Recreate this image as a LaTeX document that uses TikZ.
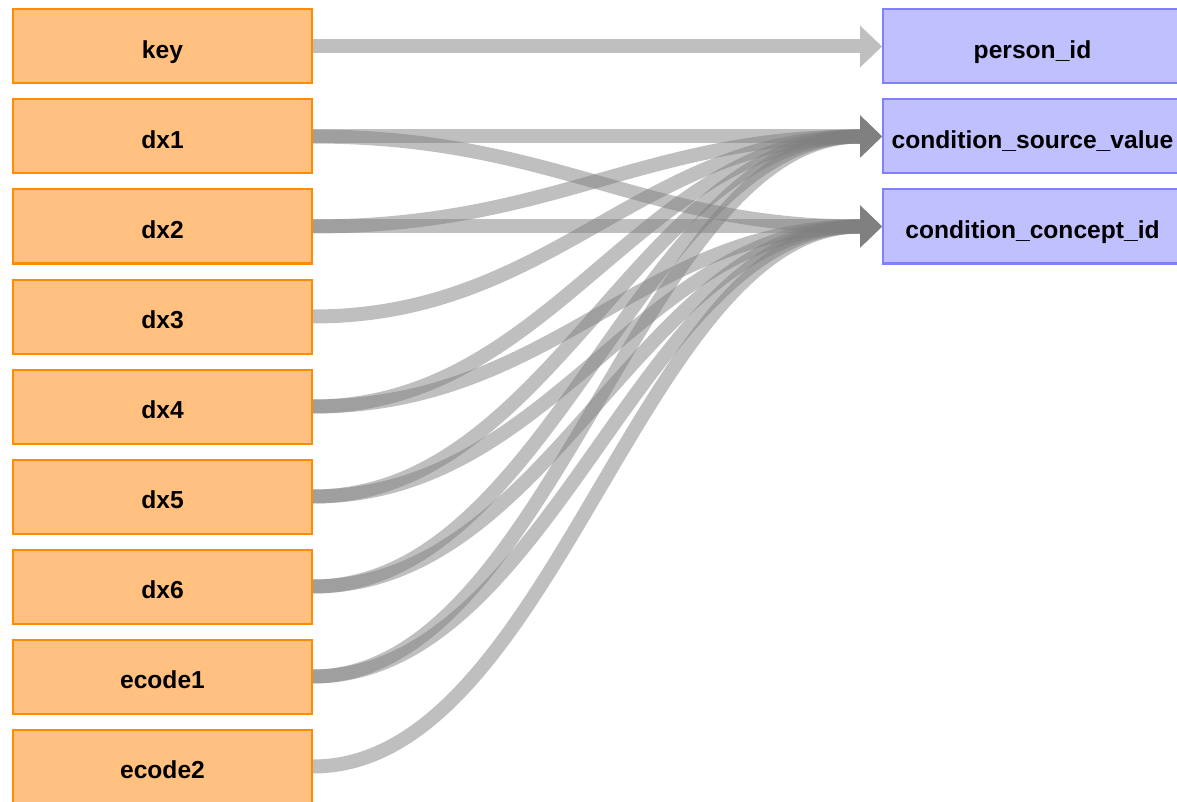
\documentclass[tikz,border=0pt]{standalone}
\usepackage{fontspec}
\setmainfont{Liberation Sans}
\usetikzlibrary{arrows.meta,positioning,backgrounds}
\definecolor{srcfill}{HTML}{FFC080}
\definecolor{srcline}{HTML}{FF8C00}
\definecolor{tgtfill}{HTML}{C0C0FF}
\definecolor{tgtline}{HTML}{8080FF}

\begin{document}
\begin{tikzpicture}[x=1pt,y=-1pt,
  base/.style={line width=2pt,minimum width=299pt,minimum height=74pt,inner sep=0pt,
    text height=24pt,text depth=0pt,font=\bfseries\fontsize{24.6}{28}\selectfont},
  src/.style={base,draw=srcline,fill=srcfill},
  tgt/.style={base,draw=tgtline,fill=tgtfill},
  map/.style={-{Triangle[length=22pt,width=42pt,line width=0pt]},line width=14pt,draw=gray,opacity=0.5,
    to path={.. controls +(240,0) and +(-240,0) .. (\tikztotarget)}}]
\useasboundingbox (0,0) rectangle (1177,802);
% source fields
\node[src] (key) at (162.5,46.5) {key};
\node[src,below=14pt of key] (dx1) {dx1};
\node[src,below=14pt of dx1] (dx2) {dx2};
\node[src,below=14pt of dx2] (dx3) {dx3};
\node[src,below=14pt of dx3] (dx4) {dx4};
\node[src,below=14pt of dx4] (dx5) {dx5};
\node[src,below=14pt of dx5] (dx6) {dx6};
\node[src,below=14pt of dx6] (ecode1) {ecode1};
\node[src,below=14pt of ecode1] (ecode2) {ecode2};
% target fields
\node[tgt] (person) at (1032.5,46.5) {person\_id};
\node[tgt,below=14pt of person] (srcval) {condition\_source\_value};
\node[tgt,below=14pt of srcval] (concept) {condition\_concept\_id};
% mappings
\begin{scope}[on background layer]
\draw[map] (key.east) to (person.west);
\draw[map] (dx1.east) to (srcval.west);
\draw[map] (dx1.east) to (concept.west);
\draw[map] (dx2.east) to (srcval.west);
\draw[map] (dx2.east) to (concept.west);
\draw[map] (dx3.east) to (srcval.west);
\draw[map] (dx4.east) to (srcval.west);
\draw[map] (dx4.east) to (concept.west);
\draw[map] (dx5.east) to (srcval.west);
\draw[map] (dx5.east) to (concept.west);
\draw[map] (dx6.east) to (srcval.west);
\draw[map] (dx6.east) to (concept.west);
\draw[map] (ecode1.east) to (srcval.west);
\draw[map] (ecode1.east) to (concept.west);
\draw[map] (ecode2.east) to (concept.west);
\end{scope}
\end{tikzpicture}
\end{document}
